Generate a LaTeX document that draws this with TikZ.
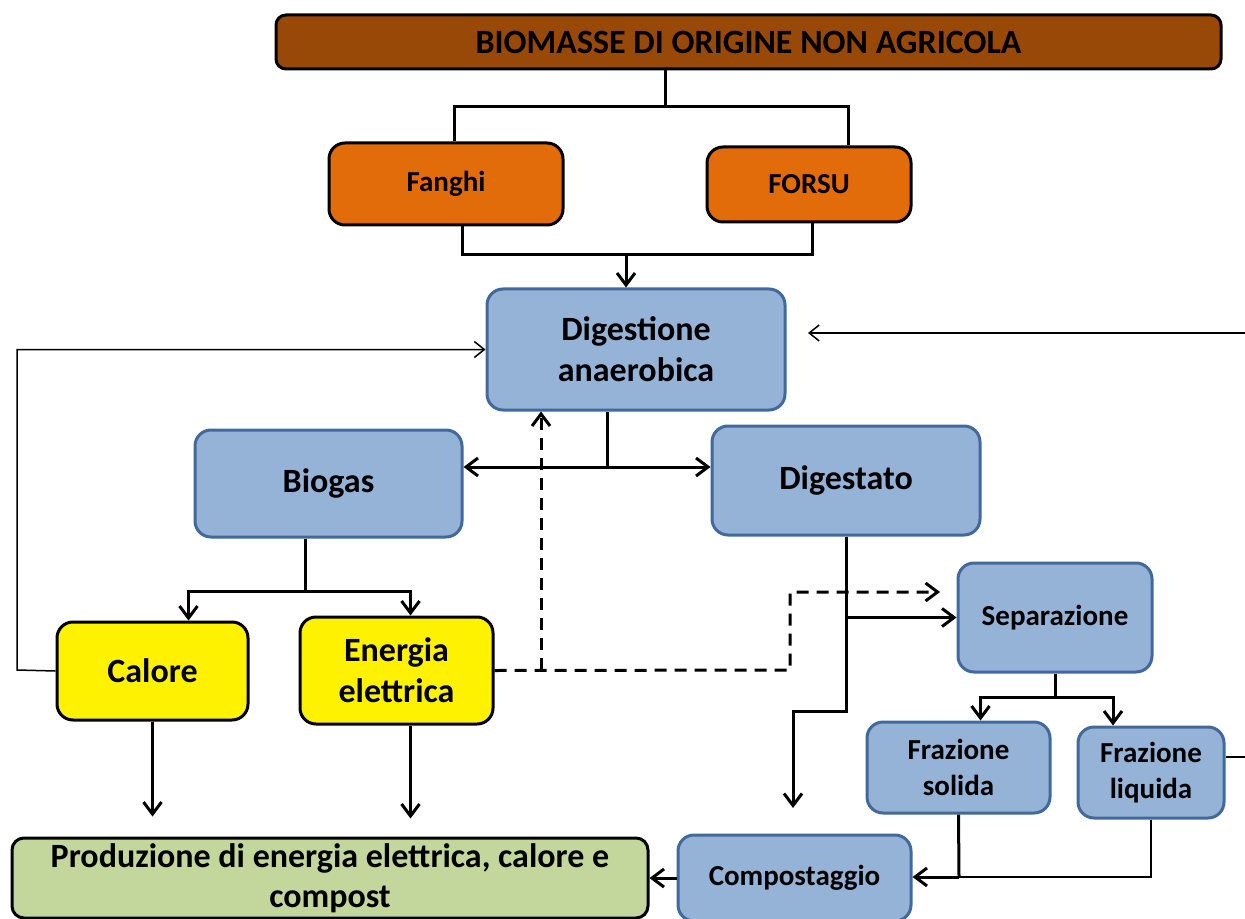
\documentclass[tikz,border=0pt]{standalone}
\usepackage{fontspec}
\setmainfont{Carlito}
\usepackage{tikz}
\usetikzlibrary{arrows.meta, positioning}
\definecolor{biomass}{RGB}{152,72,7}
\definecolor{waste}{RGB}{227,108,10}
\definecolor{processfill}{RGB}{149,179,215}
\definecolor{processedge}{RGB}{65,105,155}
\definecolor{productfill}{RGB}{195,214,155}
\newcommand*{\bigfont}{\bfseries\fontsize{17}{20.5}\selectfont}
\newcommand*{\smallfont}{\bfseries\fontsize{14.5}{18}\selectfont}
\tikzstyle{block} = [draw, rectangle, rounded corners=8pt, line width=1.5pt, align=center, inner sep=2pt, font=\bigfont]
\tikzstyle{header} = [block, fill=biomass, rounded corners=5pt, font=\bfseries\fontsize{17}{20}\selectfont]
\tikzstyle{source} = [block, fill=waste, font=\smallfont]
\tikzstyle{process} = [block, draw=processedge, fill=processfill]
\tikzstyle{stage} = [process, font=\smallfont]
\tikzstyle{energy} = [block, fill=yellow]
\tikzstyle{product} = [block, fill=productfill, rounded corners=6pt, font=\bfseries\fontsize{17}{20}\selectfont]
\tikzstyle{joint} = [line width=1.5pt]
\tikzstyle{flow} = [joint, -{Straight Barb[length=6pt, width=9pt]}]
\tikzstyle{both flow} = [joint, {Straight Barb[length=6pt, width=9pt]}-{Straight Barb[length=6pt, width=9pt]}]
\tikzstyle{tie} = [line width=0.75pt]
\tikzstyle{feedback} = [tie, -{Straight Barb[length=5pt, width=8pt]}]
\tikzstyle{recycle} = [flow, dash pattern=on 6pt off 4pt]
\begin{document}
\begin{tikzpicture}[x=0.5pt, y=-0.5pt]
    \useasboundingbox (0,0) rectangle (1245,919);
    \clip (0,0) rectangle (1245,919);

    \node (title) [header, minimum width=472.5pt, minimum height=27pt] at (748.5,42) {BIOMASSE DI ORIGINE NON AGRICOLA};
    \node (fanghi) [source, minimum width=117pt, minimum height=41pt] at (446,184) {Fanghi};
    \node (forsu) [source, minimum width=102pt, minimum height=37.5pt] at (809,184.5) {FORSU};
    \node (digestione) [process, minimum width=149pt, minimum height=60.5pt] at (636,349.5) {Digestione\\anaerobica};
    \node (biogas) [process, minimum width=133.5pt, minimum height=53.5pt] at (328.5,483.5) {Biogas};
    \node (digestato) [process, minimum width=134pt, minimum height=54.5pt] at (846,480.5) {Digestato};
    \node (calore) [energy, minimum width=95.5pt, minimum height=49pt] at (152.5,671) {Calore};
    \node (energia) [energy, minimum width=96.5pt, minimum height=53.5pt] at (396.5,670.5) {Energia\\elettrica};
    \node (separazione) [stage, minimum width=97pt, minimum height=54.5pt] at (1055,617.5) {Separazione};
    \node (solida) [stage, minimum width=91.5pt, minimum height=45.5pt] at (958.5,767.5) {Frazione\\solida};
    \node (liquida) [stage, minimum width=73pt, minimum height=45.5pt] at (1151,772.5) {Frazione\\liquida};
    \node (compost) [stage, minimum width=116.5pt, minimum height=43pt] at (794.5,878) {Compostaggio};
    \node (produzione) [product, minimum width=318pt, minimum height=40pt] at (330,878) {Produzione di energia elettrica, calore e\\compost};

    \coordinate (top split) at (665,107);
    \coordinate (src merge) at (626,255);
    \coordinate (dig split) at (607,467);
    \coordinate (gas split) at (305,591);
    \coordinate (heat loop) at (17,670);
    \coordinate (right in) at (1245,333);
    \coordinate (right tip) at (808,333);
    \coordinate (liquid out) at (1245,757);
    \coordinate (back up) at (541,670);
    \coordinate (back over) at (790,670);
    \coordinate (sep tip) at (940,592);
    \coordinate (comp turn) at (793,711);
    \coordinate (comp tip) at (793,808);
    \coordinate (sep split) at (1055,697);
    \coordinate (solid merge) at (959,877);

    % Arrows.
    \draw [joint] (title.south -| top split) -- (top split);
    \draw [joint] ([xshift=4pt]fanghi.north) |- (top split) -| ([xshift=19.5pt]forsu.north);
    \draw [joint] ([xshift=8pt]fanghi.south) |- (src merge);
    \draw [joint] ([xshift=1.5pt]forsu.south) |- (src merge);
    \draw [flow] (src merge) -- (src merge |- digestione.north);
    \draw [joint] (digestione.south -| dig split) -- (dig split);
    \draw [both flow] (biogas.east |- dig split) -- (digestato.west |- dig split);
    \draw [joint] (biogas.south -| gas split) -- (gas split);
    \draw [flow] (gas split) -| ([xshift=18pt]calore.north);
    \draw [flow] (gas split) -| ([xshift=7pt]energia.north);
    \draw [feedback] (calore.west) -- (heat loop) |- (digestione.west);
    \draw [feedback] (right in) -- (right tip);
    \draw [recycle] (energia.east) -- (back over) |- (sep tip);
    \draw [recycle] (back up) -- (back up |- digestione.south);
    \draw [flow] (digestato.south) |- (comp turn) -- (comp tip);
    \draw [flow] (digestato.south |- separazione.west) -- (separazione.west);
    \draw [joint] (separazione.south) -- (sep split);
    \draw [flow] (sep split) -| ([xshift=11pt]solida.north);
    \draw [flow] (sep split) -| ([xshift=-19pt]liquida.north);
    \draw [tie] (liquida.east |- liquid out) -- (liquid out);
    \draw [joint] (solida.south) -- (solid merge);
    \draw [tie] (liquida.south) |- (solid merge);
    \draw [flow] (solid merge) -- (compost.east |- solid merge);
    \draw [flow] (compost.west) -- (produzione.east |- compost.west);
    \draw [flow, shorten >=10pt] (calore.south) -- (calore.south |- produzione.north);
    \draw [flow, shorten >=9pt] ([xshift=7pt]energia.south) -- ([xshift=7pt]energia.south |- produzione.north);
\end{tikzpicture}
\end{document}
